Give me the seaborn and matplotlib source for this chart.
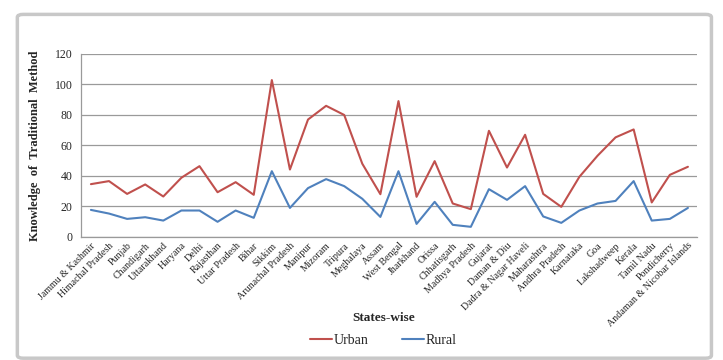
import matplotlib
matplotlib.use("Agg")
import matplotlib.pyplot as plt
import seaborn as sns
import pandas as pd
from matplotlib.patches import FancyBboxPatch

states = ["Jammu & Kashmir", "Himachal Pradesh", "Punjab", "Chandigarh", "Uttarakhand",
          "Haryana", "Delhi", "Rajasthan", "Uttar Pradesh", "Bihar", "Sikkim",
          "Arunachal Pradesh", "Manipur", "Mizoram", "Tripura", "Meghalaya", "Assam",
          "West Bengal", "Jharkhand", "Orissa", "Chhatisgarh", "Madhya Pradesh", "Gujarat",
          "Daman & Diu", "Dadra & Nagar Haveli", "Maharashtra", "Andhra Pradesh",
          "Karnataka", "Goa", "Lakshadweep", "Kerala", "Tamil Nadu", "Pondicherry",
          "Andaman & Nicobar Islands"]
urban = [34.6, 36.6, 28.2, 34.4, 26.5, 38.8, 46.4, 29.3, 35.9, 27.6, 102.9,
         44.2, 77.0, 86.0, 80.0, 48.0, 28.0, 89.1, 26.3, 49.7, 21.9, 18.2, 69.6,
         45.5, 67.0, 28.2, 19.7, 39.4, 53.2, 65.3, 70.5, 22.6, 40.7, 46.0]
rural = [17.7, 15.3, 11.8, 12.9, 10.7, 17.3, 17.3, 9.9, 17.3, 12.5, 43.1,
         19.0, 32.0, 37.9, 33.3, 25.0, 13.1, 43.1, 8.5, 23.0, 7.9, 6.6, 31.3,
         24.3, 33.3, 13.4, 9.2, 17.3, 21.9, 23.6, 36.6, 10.7, 11.8, 19.0]
series_names = ["Urban", "Rural"]
y_ticks = [0, 20, 40, 60, 80, 100, 120]

sns.set_style("white")
plt.rcParams['font.family'] = ['Liberation Serif', 'DejaVu Serif']
plt.rcParams['legend.fontsize'] = 10

df = pd.DataFrame({
    "idx": list(range(len(states))) * 2,
    "value": urban + rural,
    "series": [series_names[0]] * len(states) + [series_names[1]] * len(states),
})

fig = plt.figure(figsize=(7.23, 3.6), dpi=100)
ax = fig.add_axes([0.112, 0.342, 0.852, 0.508])

# chart frame
frame = FancyBboxPatch((0.024, 0.005), 0.96, 0.955, boxstyle="round,pad=0,rounding_size=0.008",
                       transform=fig.transFigure, fill=False, edgecolor="#c8c8c8",
                       linewidth=2.5, zorder=-5)
fig.patches.append(frame)

sns.lineplot(data=df, x="idx", y="value", hue="series",
             palette={"Urban": "#C0504D", "Rural": "#4F81BD"},
             linewidth=1.5, ax=ax, legend=True)

ax.set_xlim(-0.55, 33.5)
ax.set_ylim(0, 120)
ax.set_yticks(y_ticks)
ax.set_yticklabels([str(t) for t in y_ticks], fontsize=8.5)
ax.set_xticks(range(len(states)))
ax.set_xticklabels(states, rotation=45, ha="right", rotation_mode="anchor", fontsize=7.2)
ax.tick_params(axis="both", length=0, pad=3)
ax.tick_params(axis="y", pad=6)
ax.yaxis.grid(True, color="#9a9a9a", linewidth=0.9)
ax.set_axisbelow(True)
for s in ["top", "right"]:
    ax.spines[s].set_visible(False)
ax.spines["left"].set_color("#9a9a9a")
ax.spines["bottom"].set_color("#9a9a9a")
ax.spines["left"].set_linewidth(0.9)
ax.spines["bottom"].set_linewidth(0.9)

ax.set_ylabel("Knowledge  of  Traditional  Method", fontsize=9, fontweight="bold", labelpad=10)
ax.set_xlabel("")
fig.text(0.53, 0.118, "States-wise", ha="center", va="center", fontsize=9.5, fontweight="bold")

handles, labels = ax.get_legend_handles_labels()
leg = ax.legend(handles, labels, loc="center", bbox_to_anchor=(0.53, 0.055),
                bbox_transform=fig.transFigure, ncol=2, frameon=False,
                handlelength=1.6, handletextpad=0.1, columnspacing=2.4)
for t in leg.get_texts():
    t.set_fontfamily(['Liberation Serif', 'DejaVu Serif'])
    t.set_fontsize(10)

fig.savefig("out.png", dpi=100)
